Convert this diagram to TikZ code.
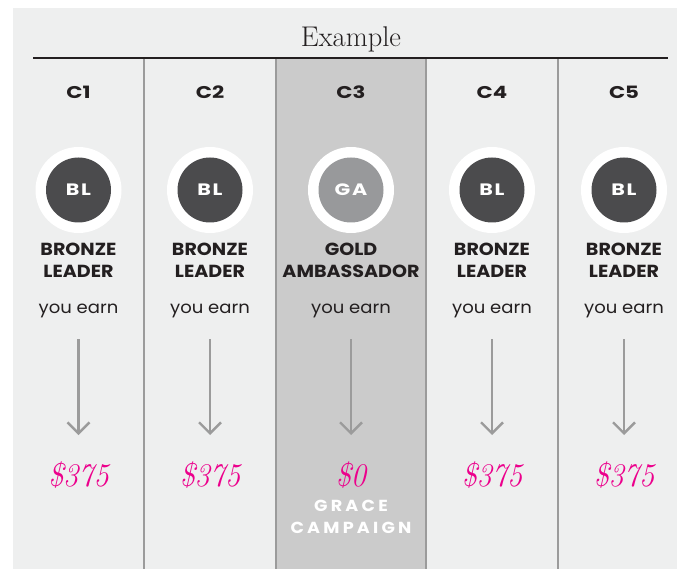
\documentclass[tikz,border=0pt]{standalone}
\usepackage{fontspec}
\setsansfont{Poppins}
\usetikzlibrary{arrows.meta}
\definecolor{panel}{RGB}{238,239,239}
\definecolor{hilite}{RGB}{203,203,203}
\definecolor{divider}{RGB}{155,155,155}
\definecolor{ink}{RGB}{35,31,32}
\definecolor{darkbadge}{RGB}{75,75,77}
\definecolor{greybadge}{RGB}{152,153,155}
\definecolor{pink}{RGB}{236,0,140}
\begin{document}
\begin{tikzpicture}[x=1pt,y=-1pt,
  hdr/.style={font=\sffamily\bfseries\fontsize{17}{20}\selectfont\addfontfeature{FakeStretch=1.25}, text=ink, anchor=base, inner sep=0pt},
  ring/.style={circle, fill=white, minimum size=86pt, inner sep=0pt},
  badge/.style={circle, minimum size=65pt, inner sep=0pt, text=white,
     font=\sffamily\bfseries\fontsize{16.5}{18}\selectfont\addfontfeature{FakeStretch=1.25,LetterSpace=10}},
  rank/.style={font=\sffamily\bfseries\fontsize{17.5}{22}\selectfont\addfontfeature{FakeStretch=1.09}, text=ink, align=center, inner sep=0pt},
  earn/.style={font=\sffamily\fontsize{17}{20}\selectfont\addfontfeature{FakeStretch=1.06}, text=ink, anchor=base, inner sep=0pt},
  amount/.style={font=\rmfamily\itshape\fontsize{33}{34}\selectfont, text=pink, anchor=base, inner sep=0pt},
  grace/.style={font=\sffamily\bfseries\fontsize{16}{22}\selectfont\addfontfeature{FakeStretch=1.1,LetterSpace=20}, text=white, align=center, inner sep=0pt},
  arr/.style={draw=divider, line width=2.4pt, -{Straight Barb[length=11pt,width=22pt,line width=2.4pt]}},
  divline/.style={draw=divider, line width=2.4pt}
]
\useasboundingbox (0,0) rectangle (677,569);
\fill[white] (0,0) rectangle (677,569);
\fill[panel] (13,8) rectangle (677,569);
\fill[hilite] (277,58) rectangle (425,569);
\foreach \dx in {144,276,426,558} \draw[divline] (\dx,58) -- (\dx,569);
\node[font=\rmfamily\fontsize{28.5}{30}\selectfont, text=ink, anchor=base, inner sep=0pt] (title) at (351,47) {Example};
\coordinate (tl) at (33,58);
\coordinate (tr) at (668,58);
\draw[ink, line width=2pt] (tl) -- (tr);
\foreach \i/\cx/\code/\bcol/\rk/\amt in {
  1/78.5/BL/darkbadge/{BRONZE\\LEADER}/{\scalebox{0.92}[1]{\$375}},
  2/210/BL/darkbadge/{BRONZE\\LEADER}/{\scalebox{0.92}[1]{\$375}},
  3/351/GA/greybadge/{GOLD\\AMBASSADOR}/{\scalebox{0.92}[1]{\$0}},
  4/492/BL/darkbadge/{BRONZE\\LEADER}/{\scalebox{0.92}[1]{\$375}},
  5/624/BL/darkbadge/{BRONZE\\LEADER}/{\scalebox{0.92}[1]{\$375}}} {
  \node[hdr] (h\i) at (\cx,98.5) {C\i};
  \node[ring] (r\i) at (\cx,190) {};
  \node[badge, fill=\bcol] (b\i) at (\cx,190) {\code};
  \node[rank] (k\i) at (\cx,260.5) {\rk};
  \node[earn] (e\i) at (\cx,313) {you earn};
  \node[amount] (a\i) at (\cx,486) {\amt};
  \coordinate (s\i) at (\cx,339);
  \coordinate (t\i) at (\cx,435);
  \draw[arr] (s\i) -- (t\i);
}
\node[grace] (g3) at (351,517) {GRACE\\CAMPAIGN};
\end{tikzpicture}
\end{document}
